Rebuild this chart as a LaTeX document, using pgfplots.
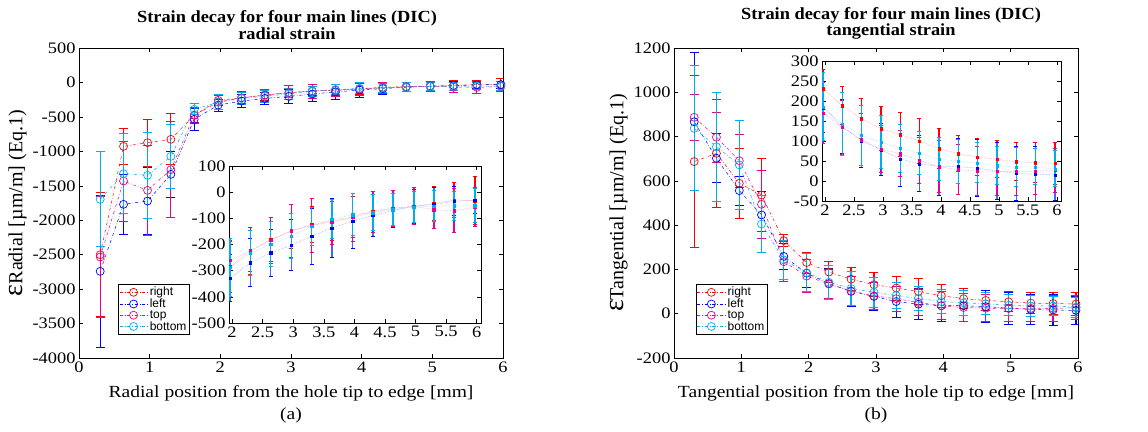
\documentclass[border=0pt]{standalone}
\usepackage{pgfplots}
\usepackage{pgfplotstable}
\pgfplotsset{compat=1.18}
\usepackage{fontspec}
\setmainfont{Liberation Serif}[FakeStretch=1.15]
\newfontfamily\titlefont{Liberation Serif}[FakeStretch=1.08]
\newfontfamily\ylfont{Liberation Serif}
\newfontfamily\legfont{Liberation Sans}
\definecolor{inblue}{RGB}{60,110,235}

% radial strain: x, mean, error
\pgfplotstableread{
x y e
0.30 -2500 900
0.63 -928 260
0.97 -874 340
1.30 -826 370
1.63 -477 120
1.97 -285 100
2.30 -224 90
2.63 -181 85
2.97 -148 66
3.30 -124 70
3.63 -110 75
3.97 -95 80
4.30 -72 75
4.63 -61 67
4.97 -54 70
5.30 -44 66
5.63 -30 65
5.97 -33 92
}\radR
\pgfplotstableread{
x y e
0.30 -2742 1100
0.63 -1770 440
0.97 -1721 480
1.30 -1334 330
1.63 -535 155
1.97 -329 89
2.30 -270 91
2.63 -232 91
2.97 -203 98
3.30 -168 107
3.63 -137 114
3.97 -111 104
4.30 -89 79
4.63 -70 65
4.97 -54 65
5.30 -47 65
5.63 -35 55
5.97 -31 50
}\radL
\pgfplotstableread{
x y e
0.30 -2534 880
0.63 -1431 580
0.97 -1566 650
1.30 -1266 700
1.63 -477 110
1.97 -260 73
2.30 -224 78
2.63 -184 87
2.97 -148 100
3.30 -127 102
3.63 -114 85
3.97 -97 91
4.30 -76 80
4.63 -63 70
4.97 -54 70
5.30 -67 72
5.63 -71 85
5.97 -58 75
}\radT
\pgfplotstableread{
x y e
0.30 -1697 690
0.63 -1324 580
0.97 -1348 620
1.30 -1073 470
1.63 -390 80
1.97 -287 110
2.30 -234 86
2.63 -199 85
2.97 -168 86
3.30 -130 73
3.63 -104 75
3.97 -86 80
4.30 -78 70
4.63 -67 60
4.97 -57 60
5.30 -54 60
5.63 -52 55
5.97 -52 65
}\radB

% tangential strain
\pgfplotstableread{
x y e
0.30 687 390
0.63 724 245
0.97 589 158
1.30 536 163
1.63 330 28
1.97 231 47
2.30 188 47
2.63 156 51
2.97 131 55
3.30 116 54
3.63 100 57
3.97 81 51
4.30 68 45
4.63 60 46
4.97 54 46
5.30 48 47
5.63 46 50
5.97 44 52
}\tanR
\pgfplotstableread{
x y e
0.30 867 312
0.63 702 110
0.97 556 65
1.30 446 105
1.63 259 60
1.97 183 63
2.30 136 67
2.63 101 67
2.97 78 65
3.30 55 70
3.63 43 70
3.97 36 72
4.30 36 71
4.63 32 71
4.97 25 72
5.30 19 68
5.63 17 68
5.97 15 65
}\tanL
\pgfplotstableread{
x y e
0.30 887 105
0.63 797 113
0.97 691 119
1.30 494 155
1.63 235 90
1.97 170 76
2.30 134 67
2.63 103 65
2.97 80 59
3.30 68 57
3.63 51 58
3.97 36 64
4.30 28 63
4.63 25 62
4.97 24 61
5.30 24 60
5.63 24 58
5.97 27 55
}\tanT
\pgfplotstableread{
x y e
0.30 837 282
0.63 754 246
0.97 672 203
1.30 405 128
1.63 243 90
1.97 185 85
2.30 142 78
2.63 114 75
2.97 97 67
3.30 82 60
3.63 69 54
3.97 55 53
4.30 49 55
4.63 45 50
4.97 38 48
5.30 35 48
5.63 35 45
5.97 30 45
}\tanB

\pgfplotsset{
  mainax/.style={
    scale only axis, anchor=south west,
    xmin=0, xmax=6, xtick={0,...,6},
    tick align=inside, xtick pos=both, ytick pos=both,
    major tick length=4pt,
    axis line style={line width=0.6pt},
    every tick/.style={black, line width=0.5pt},
    tick label style={font=\fontsize{16}{16}\selectfont},
    /pgf/number format/assume math mode=true,
    /pgf/number format/1000 sep={},
    xlabel style={font=\fontsize{17}{22}\selectfont, align=center, yshift=-6pt},
    ylabel style={font=\ylfont\fontsize{20}{20}\selectfont, yshift=-1pt},
    title style={font=\titlefont\fontsize{17}{15}\selectfont\bfseries, align=center},
    legend cell align=left,
    legend style={font=\legfont\fontsize{12}{12}\selectfont, draw=black, line width=0.6pt,
      inner sep=1pt, row sep=-2.5pt, fill=white},
    legend image code/.code={\draw[mark repeat=2, mark phase=2] plot coordinates {(0pt,0pt) (14pt,0pt) (28pt,0pt)};},
  },
  inax/.style={
    scale only axis, anchor=south west,
    xmin=1.95, xmax=6.07, xtick={2,2.5,...,6},
    tick align=inside, xtick pos=both, ytick pos=both,
    major tick length=4pt,
    axis line style={line width=0.6pt},
    every tick/.style={black, line width=0.5pt},
    tick label style={font=\fontsize{16}{16}\selectfont},
    /pgf/number format/assume math mode=true,
    /pgf/number format/1000 sep={},
    axis background/.style={fill=white},
    clip=true,
  },
  ms/.style={color=#1, line width=0.5pt, dash dot, mark=o, mark size=4pt,
    mark options={solid, line width=0.7pt},
    error bars/y dir=both, error bars/y explicit,
    error bars/error bar style={solid, line width=1.2pt, draw=#1},
    error bars/error mark options={rotate=90, mark size=4.5pt, solid, line width=0.9pt, draw=#1}},
  % inset: #1 = line colour, #2 = bar colour
  is/.style 2 args={color=#1!45, line width=0.5pt, densely dotted, mark=square*, mark size=1.2pt,
    mark options={solid, draw=#1, fill=#1},
    error bars/y dir=both, error bars/y explicit,
    error bars/error bar style={solid, line width=1.6pt, draw=#2},
    error bars/error mark options={rotate=90, mark size=2pt, solid, line width=1pt, draw=#1}},
}

\begin{document}
\begin{tikzpicture}
\path[use as bounding box] (0pt,0pt) rectangle (1148pt,431pt);

% ---- (a) radial ----
\begin{axis}[mainax, at={(79pt,73pt)}, width=424pt, height=310pt,
  ymin=-4000, ymax=500, ytick={-4000,-3500,...,500},
  xlabel={Radial position from the hole tip to edge [mm]\\(a)},
  ylabel={{\fontsize{28}{28}\selectfont ε}Radial [µm/m] (Eq.1)},
  title={Strain decay for four main lines (DIC)\\radial strain},
  title style={yshift=-1pt, xshift=-4pt},
  legend style={at={(0.092,0.239)}, anchor=north west},
]
\addplot[ms=red] table[x=x, y=y, y error=e] {\radR};
\addplot[ms=blue] table[x=x, y=y, y error=e] {\radL};
\addplot[ms=magenta] table[x=x, y=y, y error=e] {\radT};
\addplot[ms=cyan] table[x=x, y=y, y error=e] {\radB};
\legend{right, left, top, bottom}
\end{axis}

\begin{axis}[inax, at={(229pt,108pt)}, width=252pt, height=157pt,
  ymin=-500, ymax=100, ytick={-500,-400,...,100}]
\addplot[is={red}{red}] table[x=x, y=y, y error=e] {\radR};
\addplot[is={blue}{inblue}] table[x=x, y=y, y error=e] {\radL};
\addplot[is={magenta}{magenta}] table[x=x, y=y, y error=e] {\radT};
\addplot[is={cyan}{cyan}] table[x=x, y=y, y error=e] {\radB};
\end{axis}

% ---- (b) tangential ----
\begin{axis}[mainax, at={(674pt,73pt)}, width=404pt, height=310pt,
  ymin=-200, ymax=1200, ytick={-200,0,...,1200},
  xlabel={Tangential position from the hole tip to edge [mm]\\(b)},
  ylabel={{\fontsize{28}{28}\selectfont ε}Tangential [µm/m] (Eq.1)},
  title={Strain decay for four main lines (DIC)\\tangential strain},
  title style={yshift=-1pt, xshift=15pt},
  legend style={at={(0.054,0.239)}, anchor=north west},
]
\addplot[ms=red] table[x=x, y=y, y error=e] {\tanR};
\addplot[ms=blue] table[x=x, y=y, y error=e] {\tanL};
\addplot[ms=magenta] table[x=x, y=y, y error=e] {\tanT};
\addplot[ms=cyan] table[x=x, y=y, y error=e] {\tanB};
\legend{right, left, top, bottom}
\end{axis}

\begin{axis}[inax, at={(822pt,230pt)}, width=239pt, height=140pt,
  ymin=-50, ymax=300, ytick={-50,0,...,300}]
\addplot[is={red}{red}] table[x=x, y=y, y error=e] {\tanR};
\addplot[is={blue}{inblue}] table[x=x, y=y, y error=e] {\tanL};
\addplot[is={magenta}{magenta}] table[x=x, y=y, y error=e] {\tanT};
\addplot[is={cyan}{cyan}] table[x=x, y=y, y error=e] {\tanB};
\end{axis}
\end{tikzpicture}
\end{document}
